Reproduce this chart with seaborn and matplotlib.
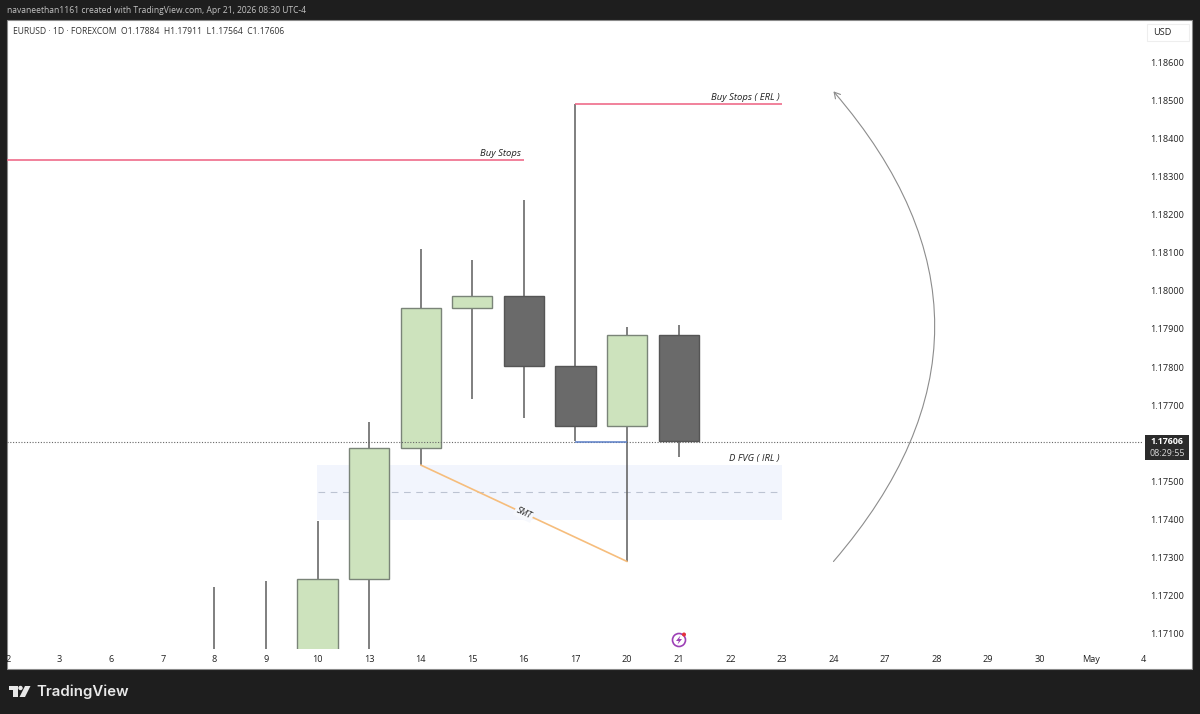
import numpy as np
import pandas as pd
import seaborn as sns
import matplotlib.pyplot as plt
from matplotlib.patches import Rectangle, Polygon, Circle

# x ticks of the daily chart
day_labels = ['2', '3', '6', '7', '8', '9', '10', '13', '14', '15', '16', '17', '20', '21',
              '22', '23', '24', '27', '28', '29', '30', 'May', '4']
price_ticks = [1.171, 1.172, 1.173, 1.174, 1.175, 1.177, 1.178, 1.179, 1.180,
               1.181, 1.182, 1.183, 1.184, 1.185, 1.186]

# candles (index into day_labels)
up_idx = [6, 7, 8, 9, 12]
up_open = [1.1700, 1.17244, 1.17588, 1.17955, 1.17645]
up_close = [1.17244, 1.17588, 1.17955, 1.17987, 1.17884]

down_idx = [10, 11, 13]
down_open = [1.17987, 1.17803, 1.17884]
down_close = [1.17803, 1.17645, 1.17606]

wick_idx = [4, 5, 6, 7, 8, 9, 10, 11, 12, 13]
wick_high = [1.17223, 1.17238, 1.17396, 1.17656, 1.18110, 1.18081, 1.18238, 1.18490, 1.17905, 1.17911]
wick_low = [1.1700, 1.1700, 1.1700, 1.1700, 1.17543, 1.17717, 1.17667, 1.17606, 1.17290, 1.17564]

last_price = 1.17603
buy_stops = 1.18343
buy_stops_erl = 1.18490
fvg_top = 1.17543
fvg_mid = 1.17471
fvg_bottom = 1.17398
smt_start = (8, 1.17543)
smt_end = (12, 1.17290)

W, H = 1200, 714
DARK = '#1e1e1e'
PANE = (7, 20, 1143, 649)   # candle pane in pixels

sns.set_theme(style='white')
plt.rcParams['font.family'] = ['Open Sans', 'DejaVu Sans']

fig = plt.figure(figsize=(W / 100, H / 100), dpi=100, facecolor=DARK)


def px_rect(x0, y0, x1, y1, **kw):
    return Rectangle((x0 / W, 1 - y1 / H), (x1 - x0) / W, (y1 - y0) / H,
                     transform=fig.transFigure, **kw)


# white chart card
fig.patches.append(px_rect(7, 20, 1192, 669, facecolor='white', edgecolor='#8a8a8a', linewidth=0.8, zorder=-1))

ax = fig.add_axes([PANE[0] / W, 1 - PANE[3] / H, (PANE[2] - PANE[0]) / W, (PANE[3] - PANE[1]) / H])
ax.set_facecolor('none')

up = pd.DataFrame({'idx': up_idx, 'open': up_open, 'close': up_close})
down = pd.DataFrame({'idx': down_idx, 'open': down_open, 'close': down_close})

# zone under everything
ax.add_patch(Rectangle((6 - 0.02, fvg_bottom), 15 - 6 + 0.02, fvg_top - fvg_bottom,
                       facecolor='#f2f5fd', edgecolor='none', zorder=0))
ax.hlines(fvg_mid, 6, 15, color='#bcc3d2', lw=0.8, ls=(0, (6, 5)), zorder=0.5)

ax.vlines(wick_idx, wick_low, wick_high, color='#5c5c5c', lw=1.1, zorder=1)

sns.barplot(x=up['idx'], y=up['close'] - up['open'], bottom=up['open'], native_scale=True, width=0.78,
            color='#cde3bd', saturation=1, edgecolor='#7a8478', linewidth=1.0, errorbar=None, zorder=2, ax=ax)
sns.barplot(x=down['idx'], y=down['open'] - down['close'], bottom=down['close'], native_scale=True, width=0.78,
            color='#6a6a6a', saturation=1, edgecolor='#555555', linewidth=1.0, errorbar=None, zorder=2, ax=ax)

# level lines
ax.axhline(last_price, color='#666666', lw=0.8, ls=(0, (1, 1.5)), zorder=2.5)
ax.hlines(buy_stops, -0.02, 10, color='#ee5f80', lw=1.1, zorder=3)
ax.hlines(buy_stops_erl, 11, 15, color='#ee5f80', lw=1.1, zorder=3)
ax.hlines(last_price, 11, 12, color='#5b7fc7', lw=1.1, zorder=3)
ax.plot([smt_start[0], smt_end[0]], [smt_start[1], smt_end[1]], color='#f6bd7c', lw=1.2, zorder=3)

label_kw = dict(fontsize=6.8, style='italic', color='#222222', zorder=4)
ax.text(9.95, buy_stops + 0.00006, 'Buy Stops', ha='right', va='bottom', **label_kw)
ax.text(14.95, buy_stops_erl + 0.00006, 'Buy Stops ( ERL )', ha='right', va='bottom', **label_kw)
ax.text(14.95, fvg_top + 0.00006, 'D FVG ( IRL )', ha='right', va='bottom', **label_kw)
ax.text(10, (smt_start[1] + smt_end[1]) / 2, 'SMT', ha='center', va='center', rotation=-25, fontsize=6.2,
        style='italic', color='#222222', zorder=4,
        bbox=dict(facecolor='#f6f8fd', edgecolor='none', pad=1.2))

# big arc arrow
ax.annotate('', xy=(16, 1.18523), xytext=(16, 1.17290),
            arrowprops=dict(arrowstyle='->,head_length=0.35,head_width=0.2', color='#8c8c8c', lw=0.8,
                            connectionstyle='arc3,rad=0.43', shrinkA=0, shrinkB=0))

ax.set_xlim((PANE[0] - 8) / 51.6, (PANE[2] - 8) / 51.6)
ax.set_ylim(1.186 - (PANE[3] - 62) / 38130, 1.186 + (62 - PANE[1]) / 38130)
ax.set_xticks(range(len(day_labels)))
ax.set_xticklabels(day_labels)
ax.set_yticks(price_ticks)
ax.set_yticklabels([f'{p:.5f}' for p in price_ticks])
ax.yaxis.tick_right()
ax.tick_params(axis='both', length=0, labelsize=6.6, labelcolor='#222222')
ax.tick_params(axis='y', pad=5.5)
ax.tick_params(axis='x', pad=4.5)
ax.set_xlabel('')
ax.set_ylabel('')
sns.despine(ax=ax, left=True, bottom=True, right=True, top=True)

# chrome drawn in pixel coordinates on top
top = fig.add_axes([0, 0, 1, 1], zorder=5)
top.set_xlim(0, W)
top.set_ylim(H, 0)
top.axis('off')
top.patch.set_alpha(0)

top.add_patch(Rectangle((0, 640), 7, 40, facecolor=DARK, edgecolor='none'))
top.text(7, 10.5, 'navaneethan1161 created with TradingView.com, Apr 21, 2026 08:30 UTC-4',
         color='#c4c4c4', fontsize=6.15, va='center')
top.text(13, 31, 'EURUSD · 1D · FOREXCOM  O1.17884  H1.17911  L1.17564  C1.17606',
         color='#333333', fontsize=6.15, va='center')

top.add_patch(Rectangle((1147, 24), 42, 17, facecolor='white', edgecolor='#eeeeee', lw=0.8))
top.text(1153, 32.5, 'USD', color='#222222', fontsize=6.6, va='center')

top.add_patch(Rectangle((1145, 435), 44, 25, facecolor='#2b2b2b', edgecolor='none'))
top.text(1167, 442, '1.17606', color='white', fontsize=6.4, ha='center', va='center', fontweight='bold')
top.text(1167, 453, '08:29:55', color='#d8d8d8', fontsize=6.4, ha='center', va='center')

# earnings style icon
top.add_patch(Circle((679, 640), 6.5, facecolor='white', edgecolor='#9c3fb5', lw=1.2))
top.add_patch(Polygon([(680.5, 635.5), (676, 641), (678.8, 641), (677.5, 644.5), (682, 639), (679.2, 639)],
                      facecolor='#9c3fb5', edgecolor='none'))
top.add_patch(Circle((684, 634.5), 2, facecolor='#e5303c', edgecolor='none'))

# logo
top.add_patch(Polygon([(9, 686), (17.5, 686), (17.5, 697), (13, 697), (13, 690), (9, 690)],
                      facecolor='#e8e8e8', edgecolor='none'))
top.add_patch(Circle((20.5, 688), 2.2, facecolor='#e8e8e8', edgecolor='none'))
top.add_patch(Polygon([(25, 686), (30.5, 686), (25, 697), (19.5, 697)], facecolor='#e8e8e8', edgecolor='none'))
top.text(36, 691.5, 'TradingView', color='#e8e8e8', fontsize=10.8, fontweight='semibold', family='Inter', va='center')

fig.savefig('out.png', dpi=100, facecolor=fig.get_facecolor())
